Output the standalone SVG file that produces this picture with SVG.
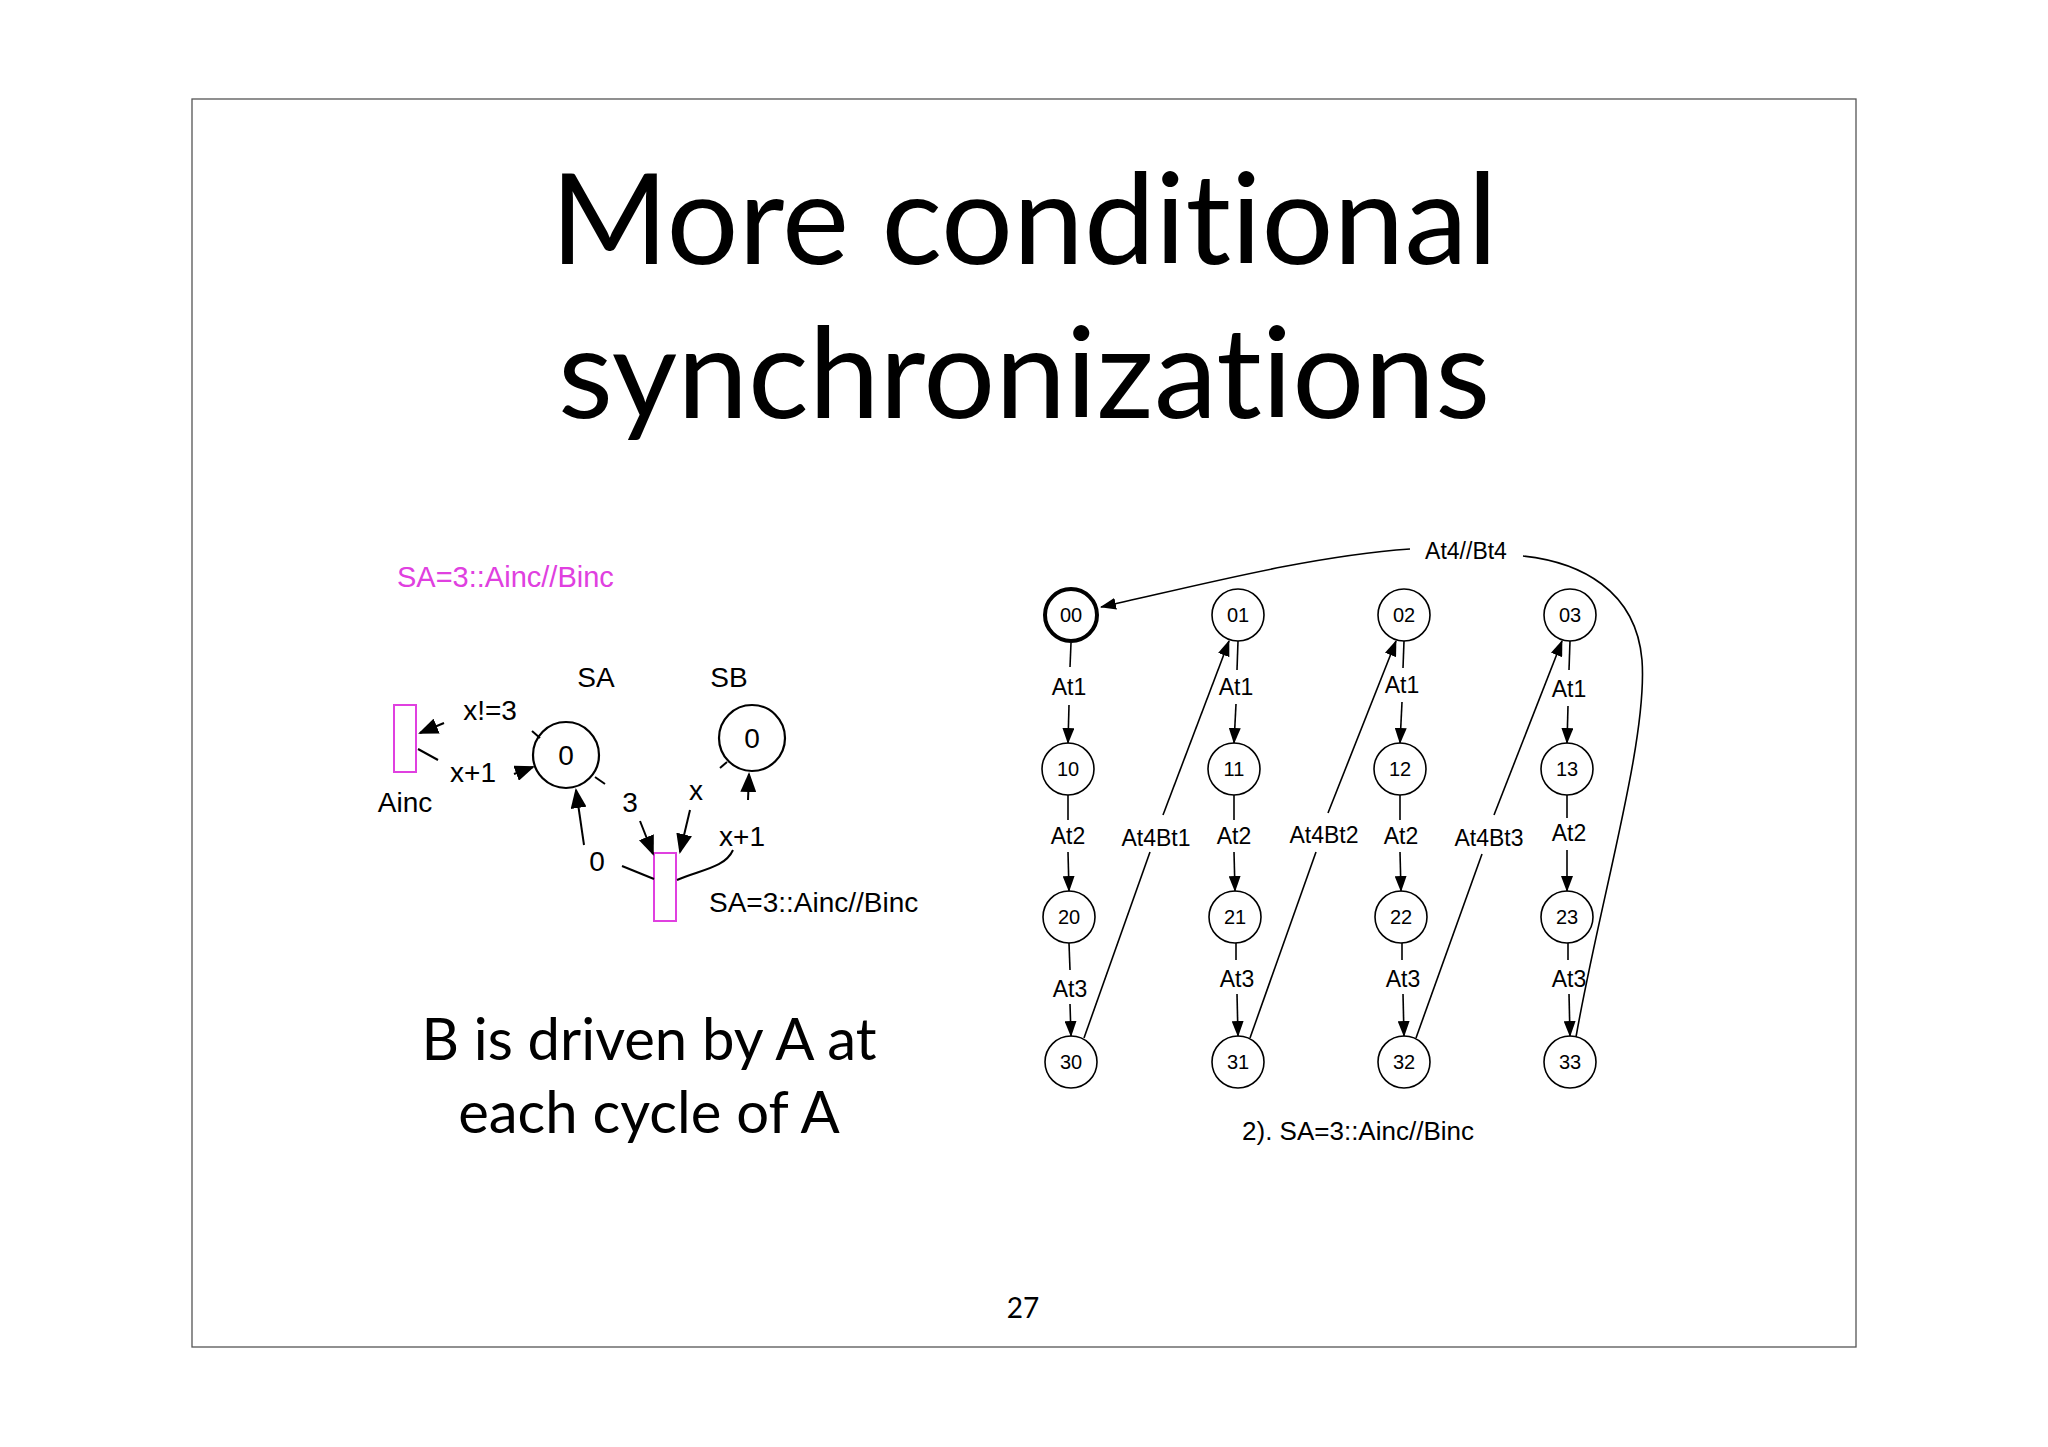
<svg xmlns="http://www.w3.org/2000/svg" width="2048" height="1447" viewBox="0 0 2048 1447">
<defs>
<marker id="ah" markerWidth="16" markerHeight="12" refX="15" refY="6" orient="auto" markerUnits="userSpaceOnUse" viewBox="0 0 16 12"><path d="M0,0 L16,6 L0,12 z" fill="#000"/></marker>
<marker id="ahb" markerWidth="20" markerHeight="16" refX="18" refY="8" orient="auto" markerUnits="userSpaceOnUse" viewBox="0 0 20 16"><path d="M0,0 L20,8 L0,16 z" fill="#000"/></marker>
</defs>
<style>
.t{font-family:"Liberation Sans",Arial,sans-serif;fill:#000}
.g{font-family:Lato,"Open Sans",sans-serif;fill:#000;font-variant-ligatures:none}
.n circle{fill:#fff;stroke:#000;stroke-width:1.6}
.n circle.thick{stroke-width:4}
.n circle.mid{stroke-width:2.2}
.e{fill:none;stroke:#000;stroke-width:1.6}
.e2{fill:none;stroke:#000;stroke-width:2}
.p{fill:#fff;stroke:#e040e0;stroke-width:2}
</style>
<rect width="2048" height="1447" fill="#fff"/>
<rect x="192" y="99" width="1664" height="1248" fill="none" stroke="#555" stroke-width="1.3"/>
<text class="g" x="1024" y="264" font-size="127" text-anchor="middle">More conditional</text>
<text class="g" x="1024" y="418" font-size="127" text-anchor="middle">synchronizations</text>
<text class="t" x="397" y="587" font-size="29" style="fill:#e040e0">SA=3::Ainc//Binc</text>

<g id="left">
<g id="SA" class="n"><circle class="mid" cx="566" cy="755" r="33"/><text class="t" x="566" y="765" font-size="28" text-anchor="middle">0</text></g>
<g id="SB" class="n"><circle class="mid" cx="752" cy="738" r="33"/><text class="t" x="752" y="748" font-size="28" text-anchor="middle">0</text></g>
<g id="Ainc"><rect class="p" x="394" y="705" width="22" height="67"/><text class="t" x="405" y="812" font-size="28" text-anchor="middle">Ainc</text></g>
<g id="Binc"><rect class="p" x="654" y="853" width="22" height="68"/><text class="t" x="709" y="912" font-size="28">SA=3::Ainc//Binc</text></g>
<text class="t" x="596" y="687" font-size="28" text-anchor="middle">SA</text>
<text class="t" x="729" y="687" font-size="28" text-anchor="middle">SB</text>
<text class="t" x="490" y="720" font-size="28" text-anchor="middle">x!=3</text>
<text class="t" x="473" y="782" font-size="28" text-anchor="middle">x+1</text>
<text class="t" x="630" y="812" font-size="28" text-anchor="middle">3</text>
<text class="t" x="696" y="800" font-size="28" text-anchor="middle">x</text>
<text class="t" x="597" y="871" font-size="28" text-anchor="middle">0</text>
<text class="t" x="742" y="846" font-size="28" text-anchor="middle">x+1</text>
</g>
<g id="left-connectors">
<line class="e2" x1="532" y1="731" x2="540" y2="738"/>
<line class="e2" x1="444" y1="723" x2="420" y2="733" marker-end="url(#ahb)"/>
<line class="e2" x1="418" y1="749" x2="438" y2="760"/>
<line class="e2" x1="514" y1="774" x2="533" y2="767" marker-end="url(#ahb)"/>
<line class="e2" x1="584" y1="845" x2="576" y2="790" marker-end="url(#ahb)"/>
<line class="e2" x1="622" y1="866" x2="654" y2="879"/>
<line class="e2" x1="595" y1="777" x2="605" y2="784"/>
<line class="e2" x1="640" y1="821" x2="653" y2="854" marker-end="url(#ahb)"/>
<line class="e2" x1="727" y1="762" x2="720" y2="768"/>
<line class="e2" x1="690" y1="810" x2="680" y2="852" marker-end="url(#ahb)"/>
<path class="e2" d="M677,880 C700,870 725,868 733,850"/>
<line class="e2" x1="748" y1="800" x2="749" y2="774" marker-end="url(#ahb)"/>
</g>
<text class="g" x="649" y="1060" font-size="58" text-anchor="middle">B is driven by A at</text>
<text class="g" x="649" y="1133" font-size="58" text-anchor="middle">each cycle of A</text>

<g id="nodes">
<g id="n00" class="n"><circle class="thick" cx="1071" cy="615" r="26"/><text class="t" x="1071" y="622" font-size="20" text-anchor="middle">00</text></g>
<g id="n01" class="n"><circle cx="1238" cy="615" r="26"/><text class="t" x="1238" y="622" font-size="20" text-anchor="middle">01</text></g>
<g id="n02" class="n"><circle cx="1404" cy="615" r="26"/><text class="t" x="1404" y="622" font-size="20" text-anchor="middle">02</text></g>
<g id="n03" class="n"><circle cx="1570" cy="615" r="26"/><text class="t" x="1570" y="622" font-size="20" text-anchor="middle">03</text></g>
<g id="n10" class="n"><circle cx="1068" cy="769" r="26"/><text class="t" x="1068" y="776" font-size="20" text-anchor="middle">10</text></g>
<g id="n11" class="n"><circle cx="1234" cy="769" r="26"/><text class="t" x="1234" y="776" font-size="20" text-anchor="middle">11</text></g>
<g id="n12" class="n"><circle cx="1400" cy="769" r="26"/><text class="t" x="1400" y="776" font-size="20" text-anchor="middle">12</text></g>
<g id="n13" class="n"><circle cx="1567" cy="769" r="26"/><text class="t" x="1567" y="776" font-size="20" text-anchor="middle">13</text></g>
<g id="n20" class="n"><circle cx="1069" cy="917" r="26"/><text class="t" x="1069" y="924" font-size="20" text-anchor="middle">20</text></g>
<g id="n21" class="n"><circle cx="1235" cy="917" r="26"/><text class="t" x="1235" y="924" font-size="20" text-anchor="middle">21</text></g>
<g id="n22" class="n"><circle cx="1401" cy="917" r="26"/><text class="t" x="1401" y="924" font-size="20" text-anchor="middle">22</text></g>
<g id="n23" class="n"><circle cx="1567" cy="917" r="26"/><text class="t" x="1567" y="924" font-size="20" text-anchor="middle">23</text></g>
<g id="n30" class="n"><circle cx="1071" cy="1062" r="26"/><text class="t" x="1071" y="1069" font-size="20" text-anchor="middle">30</text></g>
<g id="n31" class="n"><circle cx="1238" cy="1062" r="26"/><text class="t" x="1238" y="1069" font-size="20" text-anchor="middle">31</text></g>
<g id="n32" class="n"><circle cx="1404" cy="1062" r="26"/><text class="t" x="1404" y="1069" font-size="20" text-anchor="middle">32</text></g>
<g id="n33" class="n"><circle cx="1570" cy="1062" r="26"/><text class="t" x="1570" y="1069" font-size="20" text-anchor="middle">33</text></g>
</g>
<g id="connectors">
<g id="col0"><line class="e" x1="1071" y1="643" x2="1070" y2="667"/><line class="e" x1="1069" y1="705" x2="1068" y2="743" marker-end="url(#ah)"/>
<line class="e" x1="1068" y1="795" x2="1068" y2="820"/><line class="e" x1="1068" y1="852" x2="1069" y2="891" marker-end="url(#ah)"/>
<line class="e" x1="1069" y1="943" x2="1070" y2="970"/><line class="e" x1="1070" y1="1004" x2="1071" y2="1036" marker-end="url(#ah)"/></g>
<g id="col1"><line class="e" x1="1238" y1="641" x2="1237" y2="670"/><line class="e" x1="1236" y1="704" x2="1234" y2="743" marker-end="url(#ah)"/>
<line class="e" x1="1234" y1="795" x2="1234" y2="820"/><line class="e" x1="1234" y1="852" x2="1235" y2="891" marker-end="url(#ah)"/>
<line class="e" x1="1236" y1="943" x2="1236" y2="960"/><line class="e" x1="1237" y1="994" x2="1238" y2="1036" marker-end="url(#ah)"/></g>
<g id="col2"><line class="e" x1="1404" y1="641" x2="1403" y2="668"/><line class="e" x1="1402" y1="702" x2="1400" y2="743" marker-end="url(#ah)"/>
<line class="e" x1="1400" y1="795" x2="1400" y2="820"/><line class="e" x1="1400" y1="852" x2="1401" y2="891" marker-end="url(#ah)"/>
<line class="e" x1="1402" y1="943" x2="1402" y2="960"/><line class="e" x1="1403" y1="994" x2="1404" y2="1036" marker-end="url(#ah)"/></g>
<g id="col3"><line class="e" x1="1570" y1="641" x2="1569" y2="670"/><line class="e" x1="1568" y1="706" x2="1567" y2="743" marker-end="url(#ah)"/>
<line class="e" x1="1567" y1="795" x2="1567" y2="818"/><line class="e" x1="1567" y1="850" x2="1567" y2="891" marker-end="url(#ah)"/>
<line class="e" x1="1568" y1="943" x2="1568" y2="960"/><line class="e" x1="1569" y1="994" x2="1570" y2="1036" marker-end="url(#ah)"/></g>
<g id="diag"><line class="e" x1="1084" y1="1038" x2="1150" y2="852"/><line class="e" x1="1163" y1="815" x2="1229" y2="641" marker-end="url(#ah)"/>
<line class="e" x1="1250" y1="1038" x2="1316" y2="852"/><line class="e" x1="1328" y1="813" x2="1396" y2="641" marker-end="url(#ah)"/>
<line class="e" x1="1416" y1="1038" x2="1482" y2="854"/><line class="e" x1="1494" y1="815" x2="1562" y2="641" marker-end="url(#ah)"/></g>
<path class="e" d="M1576,1037 C1600,900 1648,740 1642,660 C1636,590 1580,562 1523,556"/>
<path class="e" d="M1410,549 C1310,556 1200,585 1101,607" marker-end="url(#ah)"/>
</g>
<g id="edge-labels">
<text class="t" x="1069" y="695" font-size="23" text-anchor="middle">At1</text>
<text class="t" x="1236" y="695" font-size="23" text-anchor="middle">At1</text>
<text class="t" x="1402" y="693" font-size="23" text-anchor="middle">At1</text>
<text class="t" x="1569" y="697" font-size="23" text-anchor="middle">At1</text>
<text class="t" x="1068" y="844" font-size="23" text-anchor="middle">At2</text>
<text class="t" x="1234" y="844" font-size="23" text-anchor="middle">At2</text>
<text class="t" x="1401" y="844" font-size="23" text-anchor="middle">At2</text>
<text class="t" x="1569" y="841" font-size="23" text-anchor="middle">At2</text>
<text class="t" x="1070" y="997" font-size="23" text-anchor="middle">At3</text>
<text class="t" x="1237" y="987" font-size="23" text-anchor="middle">At3</text>
<text class="t" x="1403" y="987" font-size="23" text-anchor="middle">At3</text>
<text class="t" x="1569" y="987" font-size="23" text-anchor="middle">At3</text>
<text class="t" x="1156" y="846" font-size="23" text-anchor="middle">At4Bt1</text>
<text class="t" x="1324" y="843" font-size="23" text-anchor="middle">At4Bt2</text>
<text class="t" x="1489" y="846" font-size="23" text-anchor="middle">At4Bt3</text>
<text class="t" x="1466" y="559" font-size="23" text-anchor="middle">At4//Bt4</text>
</g>
<text class="t" x="1358" y="1140" font-size="26" text-anchor="middle">2). SA=3::Ainc//Binc</text>
<text class="g" x="1023" y="1318" font-size="28" text-anchor="middle">27</text>
</svg>
